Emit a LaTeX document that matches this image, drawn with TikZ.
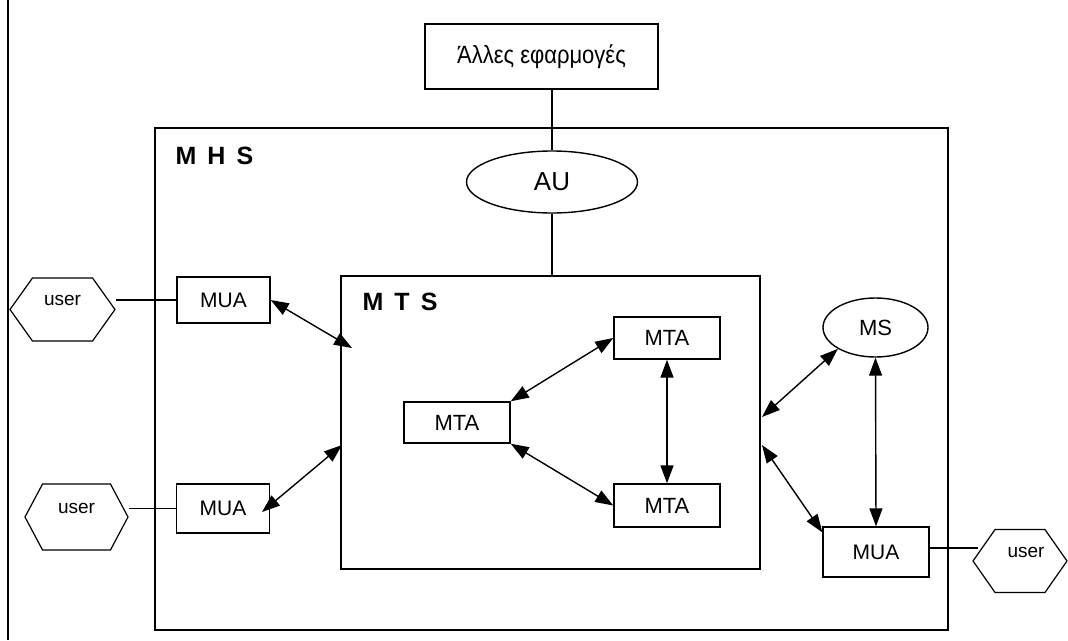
\documentclass[tikz,border=0pt]{standalone}
\usepackage{fontspec}
\setmainfont{Liberation Sans}
\usetikzlibrary{arrows.meta,shapes.geometric,shapes.symbols}
\begin{document}
\begin{tikzpicture}[x=1pt,y=-1pt,
  frame/.style={draw, line width=1.4pt, inner sep=0pt},
  box/.style={frame, rectangle},
  oval/.style={frame, ellipse},
  hexa/.style={draw, line width=1.2pt, signal, signal to=east and west,
    signal pointer angle=#1, inner sep=0pt},
  hexa/.default=110,
  link/.style={line width=1.2pt},
  tip/.tip={Triangle[length=18pt,width=13pt]},
  dbl/.style={line width=1.4pt, tip-tip},
  fs/.style={font=\fontsize{#1}{#1}\selectfont},
  title/.style={font=\fontsize{25}{25}\selectfont\bfseries, anchor=west}
]
\useasboundingbox (0,0) rectangle (1068,640);

% page edge rule
\coordinate (ruletop) at (8,0);
\coordinate (rulebot) at (8,640);
\draw[line width=1.1pt] (ruletop) -- (rulebot);

% outer systems
\node[box, minimum width=793pt, minimum height=502pt] (mhs) at (551.5,379) {};
\node[title] (mhslbl) at (172,156) {M\,\ H\,\ S};
\node[box, minimum width=419pt, minimum height=293pt] (mts) at (550.5,422.5) {};
\node[title] (mtslbl) at (359,302) {M\,\ T\,\ S};

% other applications and access unit
\node[box, minimum width=233pt, minimum height=65pt, fs=25] (apps) at (541.5,56.5)
  {\raisebox{5pt}{\scalebox{0.88}[1]{Άλλες εφαρμογές}}};
\node[oval, minimum width=171pt, minimum height=62pt, fs=26] (au) at (552,182) {AU};
\draw[link] (apps.south -| au) -- (au.north);
\draw[link] (au.south) -- (au.south |- mts.north);

% user agents on the left
\node[box, minimum width=93pt, minimum height=46pt, fs=21] (mua1) at (223.5,300) {MUA};
\node[box, minimum width=93pt, minimum height=49pt, fs=21] (mua2) at (223,508.5) {MUA};
\node[hexa=109, minimum width=105pt, minimum height=63pt] (user1) at (62.5,309.5) {};
\node[fs=19] (user1t) at (62.5,300) {user};
\node[hexa=124, minimum width=103pt, minimum height=66pt] (user2) at (76.5,517) {};
\node[fs=19] (user2t) at (76.5,508) {user};
\draw[link] (user1.east |- mua1.west) -- (mua1.west);
\draw[link] (user2.east |- mua2.west) -- (mua2.west);

% message transfer agents
\node[box, minimum width=106pt, minimum height=41pt, fs=22] (mtal) at (457,422.5) {MTA};
\node[box, minimum width=106pt, minimum height=42pt, fs=22] (mtat) at (667,338) {MTA};
\node[box, minimum width=106pt, minimum height=43pt, fs=22] (mtab) at (667,505.5) {MTA};
\draw[dbl] (mtal.north east) -- (mtat.west);
\draw[dbl] (mtal.south east) -- (mtab.west);
\draw[dbl] (mtat.south) -- (mtab.north);

% message store and right user agent
\node[oval, minimum width=105pt, minimum height=59pt, fs=22] (ms) at (875.5,327.5) {MS};
\node[box, minimum width=106pt, minimum height=50pt, fs=21] (mua3) at (876,552) {MUA};
\node[hexa=110, minimum width=94pt, minimum height=63pt] (user3) at (1020,561) {};
\node[fs=19] (user3t) at (1026,552) {user};
\draw[link] ([yshift=4pt]mua3.east) -- ([yshift=4pt,xshift=6pt]mua3.east -| user3.west);

% access points on the MTS border
\coordinate (mtsA) at (352,348);
\coordinate (mtsB) at (342,445);
\coordinate (mtsC) at (762,417);
\coordinate (mtsD) at (762,445);
\coordinate (mua2in) at (262,512);

\draw[dbl] (mua1.east) -- (mtsA);
\draw[dbl] (mua2in) -- (mtsB);
\draw[dbl] (mtsC) -- (ms.south west);
\draw[dbl] (mtsD) -- ([yshift=-6pt]mua3.north west);
\draw[dbl] (ms.south) -- (mua3.north);
\end{tikzpicture}
\end{document}
